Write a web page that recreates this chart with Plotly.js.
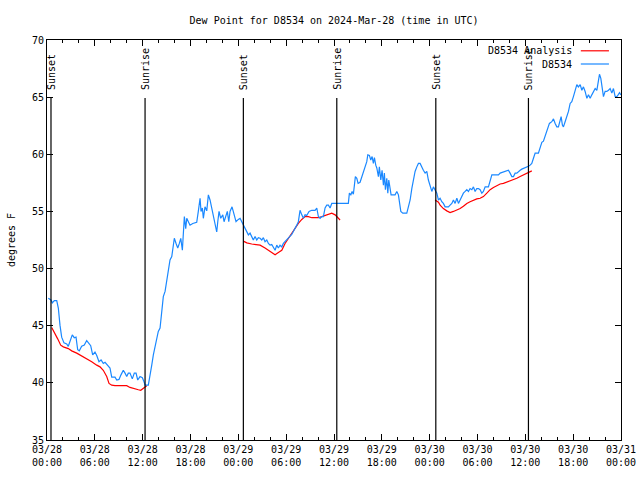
<!DOCTYPE html>
<html>
<head>
<meta charset="utf-8">
<script src="https://cdn.plot.ly/plotly-3.0.1.min.js"></script>
<style>html,body{margin:0;padding:0;background:#fff;}#chart{width:640px;height:480px;}</style>
</head>
<body>
<div id="chart"></div>
<script>
// Hours after 2024-03-28 00:00 UTC
const stationHours = [0.16,0.50,0.66,0.92,1.22,1.42,1.63,1.84,2.13,2.47,2.67,2.89,3.17,3.42,3.64,3.85,4.05,4.35,4.68,4.98,5.27,5.48,5.73,6.02,6.24,6.52,6.78,7.06,7.28,7.62,7.90,8.12,8.53,8.75,9.03,9.28,9.57,9.79,10.00,10.20,10.41,10.70,10.95,11.17,11.38,11.67,11.96,12.17,12.30,12.71,12.92,13.14,13.34,13.55,13.76,13.96,14.18,14.39,14.59,14.81,15.02,15.22,15.43,15.65,15.85,15.97,16.19,16.40,16.60,16.78,16.98,17.10,17.23,17.40,17.53,17.73,17.94,18.28,18.78,18.98,19.20,19.32,19.49,19.61,19.82,20.04,20.24,20.45,20.66,20.87,21.08,21.29,21.42,21.58,21.79,22.05,22.21,22.46,22.62,22.80,22.96,23.21,23.46,23.71,24.00,24.22,24.43,24.63,24.84,25.06,25.26,25.47,25.68,25.88,26.10,26.31,26.51,26.73,26.94,27.14,27.35,27.57,27.77,27.98,28.19,28.39,28.61,28.82,29.02,29.23,29.45,29.65,29.86,30.08,30.28,30.49,30.70,30.90,31.12,31.33,31.53,31.74,31.96,32.16,32.37,32.58,32.87,33.21,33.63,33.84,34.04,34.25,34.47,34.67,34.88,35.09,35.30,35.51,35.72,37.80,37.93,38.11,38.27,38.43,38.56,38.68,38.86,39.02,39.27,39.49,39.69,39.90,40.11,40.24,40.44,40.61,40.78,40.94,41.07,41.24,41.37,41.57,41.69,41.87,42.03,42.20,42.32,42.45,42.62,42.75,42.87,43.04,43.16,43.66,43.88,44.08,44.20,44.38,44.63,45.13,45.33,45.55,45.76,45.96,46.17,46.39,46.59,46.80,47.01,47.21,47.43,47.64,47.84,48.06,48.27,48.47,48.68,48.90,49.10,49.31,49.52,49.72,49.94,50.15,50.35,50.56,50.78,50.98,51.19,51.41,51.61,51.82,52.03,52.23,52.45,52.66,52.86,53.07,53.29,53.49,53.70,53.91,54.12,54.33,54.54,54.74,54.96,55.37,55.80,56.63,56.84,57.05,57.47,57.68,57.88,58.09,58.31,58.51,58.72,58.93,59.13,59.35,59.56,59.97,60.39,60.60,60.81,61.02,61.23,61.64,61.86,62.07,62.27,62.48,62.70,62.90,63.02,63.32,63.53,63.74,63.95,64.15,64.37,64.49,64.65,64.78,64.99,65.21,65.41,65.62,65.83,66.03,66.25,66.46,66.66,66.88,67.09,67.29,67.50,67.72,67.92,68.13,68.34,68.54,68.76,68.97,69.17,69.30,69.47,69.60,69.80,70.01,70.22,70.43,70.64,70.85,71.05,71.27,71.48,71.64,71.82,71.98];
const stationDew = [47.4,47.25,47.0,47.2,47.2,46.55,45.05,44.0,43.5,43.4,43.2,43.6,44.2,43.95,44.0,42.9,42.8,43.2,43.3,43.7,43.4,43.25,42.45,42.7,42.4,41.85,42.0,41.7,41.8,41.55,41.3,40.5,40.5,40.25,40.3,40.7,41.1,40.85,40.55,40.85,40.85,40.35,40.85,40.85,40.25,40.55,40.45,40.1,39.8,39.8,40.85,41.55,42.45,43.2,44.05,44.5,44.8,46.5,47.55,48.0,48.85,49.7,50.75,51.05,52.2,52.65,52.2,51.8,52.2,52.65,51.6,52.95,54.55,53.5,54.4,54.1,53.8,53.95,54.05,55.0,56.15,55.0,55.3,54.4,55.4,55.05,56.45,56.0,55.3,54.85,54.1,53.2,54.1,55.0,54.4,54.7,54.1,54.7,55.0,54.1,55.0,55.4,54.7,54.1,54.3,54.4,54.1,53.8,53.5,53.1,52.95,53.1,52.8,52.5,52.8,52.5,52.7,52.65,52.5,52.7,52.35,52.5,52.2,52.05,52.1,51.9,51.6,52.05,51.8,52.05,51.9,52.2,52.35,52.5,52.65,52.8,53.0,53.25,53.5,53.8,54.1,55.1,54.7,54.4,54.7,54.65,55.0,55.1,55.1,55.3,54.55,54.4,54.55,54.55,55.3,55.55,55.55,55.3,55.7,55.7,56.6,56.45,56.75,56.5,57.3,58.05,57.9,57.45,57.55,58.05,58.35,58.8,59.35,59.95,59.9,59.5,59.8,59.2,59.7,59.05,58.8,58.05,58.9,57.75,58.6,57.3,58.35,56.9,57.9,56.6,57.75,57.0,56.45,56.45,56.75,56.45,55.7,55.0,54.85,54.85,55.4,56.0,57.0,57.9,58.5,58.9,59.2,59.2,58.8,58.6,58.35,58.5,57.75,57.3,56.75,57.15,56.9,56.6,56.0,56.15,55.85,55.7,55.4,55.4,55.4,55.55,55.7,56.0,55.7,56.15,55.7,56.0,56.3,56.6,56.75,56.9,56.75,57.0,56.9,57.15,56.75,57.0,57.0,56.9,56.6,56.75,57.15,57.15,58.2,58.2,58.35,58.4,58.5,58.6,58.6,58.35,58.05,58.05,58.35,58.35,58.5,58.6,58.7,58.8,58.95,59.05,59.2,59.65,60.1,60.1,60.5,61.05,61.15,61.55,62.1,62.4,62.7,62.85,63.1,62.7,62.4,62.4,62.85,63.3,62.55,62.4,62.85,63.3,63.75,64.45,64.6,65.05,65.6,66.1,65.9,66.1,65.6,65.9,65.5,64.9,65.2,64.9,65.2,65.5,65.75,65.6,66.35,67.0,66.65,66.05,65.05,65.5,65.5,65.6,65.75,65.35,65.75,65.05,65.05,65.2,65.4,65.2];

// Analysis series (null = gap between nightly runs)
const analysisHours = [0.59,1.00,1.34,1.72,2.05,2.67,3.10,3.73,4.35,4.98,5.61,6.24,6.65,7.06,7.49,7.78,8.12,8.53,9.16,9.57,10.00,10.41,10.83,11.46,11.76,12.08,12.51,null,
24.63,25.06,25.68,26.31,26.73,27.35,27.77,28.19,28.61,29.02,29.45,29.86,30.28,30.70,31.12,31.53,31.96,32.37,32.79,33.21,33.63,34.04,34.47,34.88,35.30,35.72,36.14,36.35,36.76,null,
48.68,48.90,49.10,49.31,49.52,49.72,50.15,50.56,50.98,51.41,51.82,52.23,52.66,53.07,53.49,53.91,54.33,54.74,55.17,55.58,56.00,56.42,56.84,57.25,57.68,58.09,58.51,58.93,59.35,59.76,60.19,60.60,60.81];
const analysisDew = [44.85,44.35,43.85,43.3,43.15,43.0,42.8,42.6,42.35,42.15,41.85,41.55,41.4,41.1,40.55,39.95,39.8,39.75,39.75,39.8,39.75,39.6,39.5,39.4,39.35,39.5,39.75,null,
52.4,52.25,52.15,52.05,52.05,51.8,51.6,51.4,51.2,51.4,51.6,52.2,52.65,53.0,53.45,53.95,54.3,54.55,54.55,54.45,54.45,54.45,54.55,54.65,54.7,54.85,54.7,54.55,54.25,null,
56.0,55.85,55.8,55.55,55.4,55.25,55.05,54.9,55.0,55.1,55.25,55.45,55.7,55.85,56.0,56.1,56.15,56.3,56.6,56.9,57.1,57.25,57.4,57.45,57.55,57.7,57.8,57.9,58.05,58.2,58.35,58.5,58.55];

const sunHours = [0.50, 12.30, 24.63, 36.35, 48.77, 60.39];
const sunLabels = ["Sunset", "Sunrise", "Sunset", "Sunrise", "Sunset", "Sunrise"];

const seriesNames = ["D8534 Analysis", "D8534"];
const seriesColors = ["#ff0000", "#1a88ff"];

const START = Date.UTC(2024, 2, 28);
function toDate(h) {
  if (h === null) return null;
  const d = new Date(START + Math.round(h * 3600000));
  return d.toISOString().replace('T', ' ').slice(0, 19);
}

const FONT = "DejaVu Sans Mono, monospace";

const traces = [
  {
    x: analysisHours.map(toDate), y: analysisDew, type: 'scatter', mode: 'lines',
    name: seriesNames[0], line: {color: seriesColors[0], width: 1.2}, connectgaps: false,
    showlegend: false
  },
  {
    x: stationHours.map(toDate), y: stationDew, type: 'scatter', mode: 'lines',
    name: seriesNames[1], line: {color: seriesColors[1], width: 1.2},
    showlegend: false
  }
];

const shapes = [];
const annotations = [];
sunHours.forEach((h, i) => {
  shapes.push({type: 'line', xref: 'x', yref: 'paper', x0: toDate(h), x1: toDate(h), y0: 0, y1: 0.855,
    line: {color: '#000', width: 1.2}});
  annotations.push({xref: 'x', yref: 'paper', x: toDate(h), y: 0.87, text: sunLabels[i],
    textangle: -90, showarrow: false, xanchor: 'center', yanchor: 'bottom',
    font: {family: FONT, size: 10, color: '#000'}});
});

// gnuplot-style key: text right-aligned, line sample to its right
const keyY = [0.973, 0.94];
seriesNames.forEach((n, i) => {
  annotations.push({xref: 'paper', yref: 'paper', x: 0.918, y: keyY[i], text: n, showarrow: false,
    xanchor: 'right', yanchor: 'middle', font: {family: FONT, size: 10, color: '#000'}});
  shapes.push({type: 'line', xref: 'paper', yref: 'paper', x0: 0.930, x1: 0.979, y0: keyY[i], y1: keyY[i],
    line: {color: seriesColors[i], width: 1.2}});
});

const layout = {
  width: 640, height: 480,
  margin: {l: 47, r: 19, t: 40, b: 40},
  paper_bgcolor: '#fff', plot_bgcolor: '#fff',
  font: {family: FONT, size: 10, color: '#000'},
  title: {text: 'Dew Point for D8534 on 2024-Mar-28 (time in UTC)', x: 0.522, xanchor: 'center',
    y: 0.958, yanchor: 'middle', font: {family: FONT, size: 10, color: '#000'}},
  xaxis: {
    type: 'date', range: [toDate(0), toDate(72)],
    dtick: 6 * 3600000, tick0: toDate(0), tickformat: '%m/%d<br>%H:%M',
    ticks: 'inside', ticklen: 6, tickcolor: '#000', tickwidth: 1,
    showline: true, linecolor: '#000', linewidth: 1, mirror: 'allticks',
    showgrid: false, zeroline: false,
    minor: {dtick: 2 * 3600000, ticks: 'inside', ticklen: 3, tickcolor: '#000', showgrid: false},
    tickfont: {family: FONT, size: 10, color: '#000'}, fixedrange: true
  },
  yaxis: {
    range: [35, 70], dtick: 5, tick0: 35,
    ticks: 'inside', ticklen: 6, tickcolor: '#000', tickwidth: 1,
    showline: true, linecolor: '#000', linewidth: 1, mirror: 'allticks',
    showgrid: false, zeroline: false,
    title: {text: 'degrees F', font: {family: FONT, size: 10, color: '#000'}, standoff: 14},
    tickfont: {family: FONT, size: 10, color: '#000'}, fixedrange: true
  },
  shapes: shapes,
  annotations: annotations,
  showlegend: false
};

Plotly.newPlot('chart', traces, layout, {staticPlot: true, displayModeBar: false});
</script>
</body>
</html>
